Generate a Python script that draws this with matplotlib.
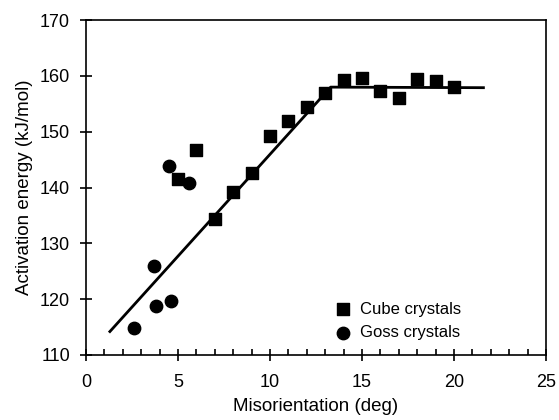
import matplotlib
matplotlib.use("Agg")
import matplotlib.pyplot as plt
from matplotlib.ticker import MultipleLocator

plt.rcParams["font.family"] = ["Liberation Sans", "DejaVu Sans"]

# Cube crystals
cube_x = [5.0, 6.0, 7.0, 8.0, 9.0, 10.0, 11.0, 12.0, 13.0, 14.0, 15.0, 16.0, 17.0, 18.0, 19.0, 20.0]
cube_y = [141.5, 146.7, 134.4, 139.2, 142.7, 149.3, 151.9, 154.4, 156.9, 159.2, 159.7, 157.3, 156.0, 159.5, 159.1, 158.0]

# Goss crystals
goss_x = [2.6, 3.7, 3.8, 4.5, 4.6, 5.6]
goss_y = [114.9, 125.9, 118.8, 143.8, 119.7, 140.8]

# bilinear fit
fit_x = [1.3, 13.3, 21.6]
fit_y = [114.2, 158.0, 157.9]

fig = plt.figure(figsize=(5.59, 4.2), dpi=100)
ax = fig.add_axes([0.1538, 0.1548, 0.8229, 0.7972])

ax.plot(fit_x, fit_y, color="black", linewidth=2.0, zorder=2)
ax.scatter(cube_x, cube_y, marker="s", s=75, color="black", label="Cube crystals", zorder=3)
ax.scatter(goss_x, goss_y, marker="o", s=80, color="black", label="Goss crystals", zorder=3)

ax.set_xlim(0, 25)
ax.set_ylim(110, 170)
ax.xaxis.set_major_locator(MultipleLocator(5))
ax.xaxis.set_minor_locator(MultipleLocator(1))
ax.yaxis.set_major_locator(MultipleLocator(10))

for s in ax.spines.values():
    s.set_linewidth(1.2)

ax.tick_params(axis="x", which="major", direction="inout", length=9, width=1.2,
               labelsize=13, pad=9)
ax.tick_params(axis="x", which="minor", direction="in", length=4, width=1.2)
ax.tick_params(axis="y", which="major", direction="inout", length=9, width=1.2,
               labelsize=13, pad=7)

ax.set_xlabel("Misorientation (deg)", fontsize=13.5, labelpad=5)
ax.set_ylabel("Activation energy (kJ/mol)", fontsize=13.5, labelpad=5)

ax.legend(loc="lower left", bbox_to_anchor=(0.508, 0.025), frameon=False,
          fontsize=12, handletextpad=0.0, labelspacing=0.5, borderaxespad=0.0,
          markerscale=1.0)

fig.savefig("out.png", dpi=100, facecolor="white")
